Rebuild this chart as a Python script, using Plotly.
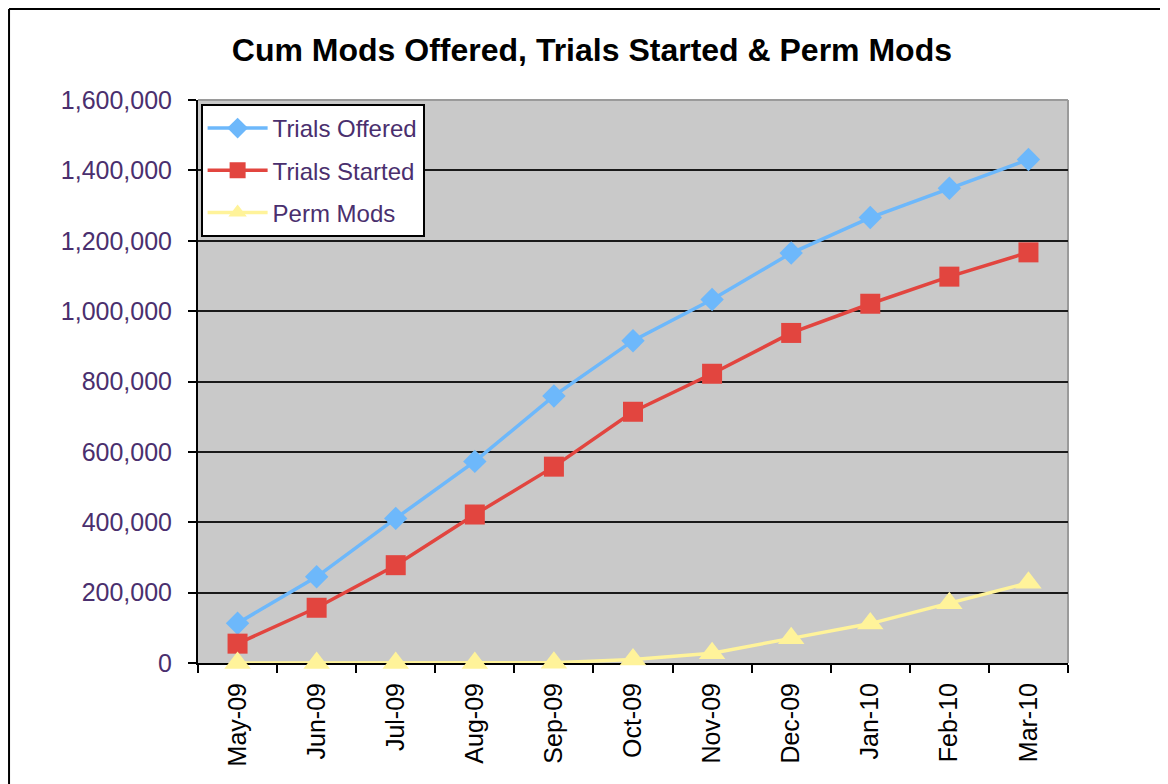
import plotly.graph_objects as go

months = ["May-09", "Jun-09", "Jul-09", "Aug-09", "Sep-09", "Oct-09",
          "Nov-09", "Dec-09", "Jan-10", "Feb-10", "Mar-10"]
trials_offered = [113000, 245000, 411000, 573000, 759000, 916000,
                  1033000, 1165000, 1266000, 1349000, 1431000]
trials_started = [55000, 157000, 278000, 422000, 558000, 714000,
                  822000, 938000, 1021000, 1098000, 1167000]
perm_mods = [0, 0, 0, 0, 1000, 10000, 28000, 70000, 112000, 170000, 228000]
y_ticks = [0, 200000, 400000, 600000, 800000, 1000000, 1200000, 1400000, 1600000]

label_color = "#4a2f6e"
FONT = "Liberation Sans, Arial, sans-serif"

fig = go.Figure()
fig.add_trace(go.Scatter(
    x=months, y=trials_offered, name="Trials Offered", mode="lines+markers",
    line=dict(color="#6db8fb", width=3.5),
    marker=dict(symbol="diamond", size=18, color="#6db8fb"),
    legendgroup="a", cliponaxis=False))
fig.add_trace(go.Scatter(
    x=months, y=trials_started, name="Trials Started", mode="lines+markers",
    line=dict(color="#e2453f", width=3.5),
    marker=dict(symbol="square", size=20, color="#e2453f"),
    legendgroup="b", cliponaxis=False))
fig.add_trace(go.Scatter(
    x=months, y=perm_mods, name="Perm Mods", mode="lines+markers",
    line=dict(color="#fff39a", width=3.5),
    marker=dict(symbol="triangle-up", size=23, color="#fff39a"),
    legendgroup="c", cliponaxis=False))

fig.update_layout(
    width=1160, height=776,
    margin=dict(l=190, r=100, t=92, b=121),
    paper_bgcolor="white",
    plot_bgcolor="#c9c9c9",
    font=dict(family=FONT, color="black"),
    title=dict(text="<b>Cum Mods Offered, Trials Started & Perm Mods</b>",
               x=0.5034, xanchor="center", xref="container", y=0.946, yanchor="middle",
               font=dict(size=32, color="black", family=FONT)),
    showlegend=True,
    legend=dict(x=0.003, y=0.993, xanchor="left", yanchor="top",
                bgcolor="white", bordercolor="black", borderwidth=2,
                font=dict(size=24, color=label_color),
                tracegroupgap=8, itemwidth=60),
    xaxis=dict(
        type="category", tickson="boundaries", ticks="outside", ticklen=8,
        tickcolor="black", tickwidth=2, showline=True, linecolor="black", linewidth=2,
        showgrid=False, tickangle=-90, tickfont=dict(size=25, color="black"),
        range=[-0.5, 10.5], layer="below traces", ticklabelstandoff=8),
    yaxis=dict(
        range=[0, 1600000], tickvals=y_ticks, tickformat=",d",
        ticks="outside", ticklen=8, tickcolor="black", tickwidth=2,
        showline=True, linecolor="black", linewidth=2,
        showgrid=True, gridcolor="#1a1a1a", gridwidth=2,
        tickfont=dict(size=25, color=label_color), ticklabelstandoff=11,
        zeroline=False, layer="below traces"),
)

# plot area top/right grey border
fig.add_shape(type="line", xref="paper", yref="paper", x0=0, x1=1, y0=1, y1=1,
              line=dict(color="#9a9a9a", width=2), layer="below")
fig.add_shape(type="line", xref="paper", yref="paper", x0=1, x1=1, y0=0, y1=1,
              line=dict(color="#9a9a9a", width=2), layer="below")
# outer chart frame (left and top)
fig.add_shape(type="line", xref="paper", yref="paper",
              x0=-0.2172, x1=-0.2172, y0=-0.3, y1=1.1616,
              line=dict(color="black", width=2))
fig.add_shape(type="line", xref="paper", yref="paper",
              x0=-0.2172, x1=1.2, y0=1.1616, y1=1.1616,
              line=dict(color="black", width=2))

fig.write_html("out.html")
